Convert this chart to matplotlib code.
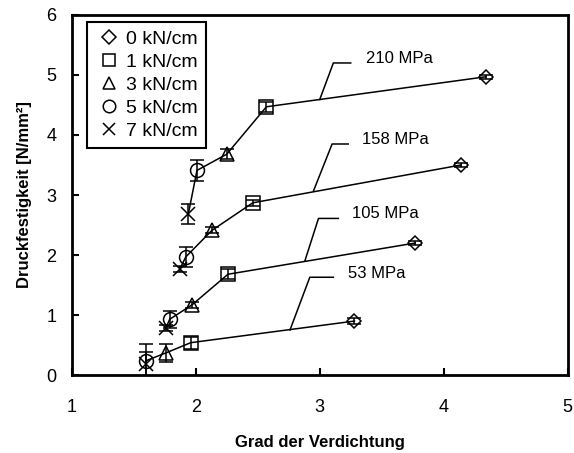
import matplotlib.pyplot as plt

plt.rcParams['font.family'] = ['Liberation Sans', 'DejaVu Sans']

# Gruppen (Spannung) und Anpressdruck
gruppen = ['53 MPa', '105 MPa', '158 MPa', '210 MPa']
druck = ['0 kN/cm', '1 kN/cm', '3 kN/cm', '5 kN/cm', '7 kN/cm']
marker = ['D', 's', '^', 'o', 'x']

# Grad der Verdichtung (x) und Druckfestigkeit (y) je Druck, Reihenfolge wie gruppen
x_0 = [3.28, 3.77, 4.14, 4.34]
y_0 = [0.90, 2.20, 3.50, 4.97]
e_0 = [0.05, 0.03, 0.03, 0.03]

x_1 = [1.96, 2.26, 2.46, 2.57]
y_1 = [0.54, 1.68, 2.87, 4.47]
e_1 = [0.10, 0.08, 0.05, 0.08]

x_3 = [1.76, 1.97, 2.13, 2.25]
y_3 = [0.37, 1.17, 2.41, 3.68]
e_3 = [0.15, 0.05, 0.05, 0.08]

x_5 = [1.60, 1.79, 1.92, 2.01]
y_5 = [0.24, 0.93, 1.97, 3.41]
e_5 = [0.27, 0.14, 0.17, 0.17]

x_7 = [1.60, 1.76, 1.87, 1.94]
y_7 = [0.18, 0.79, 1.76, 2.68]
e_7 = [0.20, 0.05, 0.05, 0.17]

# Beschriftung: Startpunkt auf der Linie, Knick, Ende, Textposition
leit_start = [(2.76, 0.75), (2.88, 1.90), (2.95, 3.07), (3.00, 4.59)]
leit_knick = [(2.92, 1.63), (2.99, 2.61), (3.10, 3.85), (3.11, 5.20)]
leit_ende = [(3.11, 1.63), (3.15, 2.61), (3.23, 3.85), (3.25, 5.20)]
text_pos = [(3.23, 1.69), (3.26, 2.69), (3.34, 3.92), (3.37, 5.28)]

xs = [x_0, x_1, x_3, x_5, x_7]
ys = [y_0, y_1, y_3, y_5, y_7]
es = [e_0, e_1, e_3, e_5, e_7]

fig = plt.figure(figsize=(5.74, 4.53), dpi=100)
ax = fig.add_axes([0.125, 0.172, 0.864, 0.795])

# Verbindungslinien je Gruppe (von 7 kN/cm bis 0 kN/cm)
for g in range(len(gruppen)):
    lx = [xs[k][g] for k in range(4, -1, -1)]
    ly = [ys[k][g] for k in range(4, -1, -1)]
    ax.plot(lx, ly, color='black', linewidth=1.1, zorder=2)

    ax.plot([leit_start[g][0], leit_knick[g][0], leit_ende[g][0]],
            [leit_start[g][1], leit_knick[g][1], leit_ende[g][1]],
            color='black', linewidth=1.1)
    ax.text(text_pos[g][0], text_pos[g][1], gruppen[g], fontsize=12,
            va='center', ha='left')

# Messpunkte mit Fehlerbalken
for k in range(5):
    ms = 7 if marker[k] == 'D' else 10
    ax.errorbar(xs[k], ys[k], yerr=es[k], fmt=marker[k], markersize=ms,
                markerfacecolor='none', markeredgecolor='black',
                markeredgewidth=1.1, ecolor='black', elinewidth=1.1,
                capsize=5, capthick=1.1, label=druck[k], zorder=3)

ax.set_xlim(1, 5)
ax.set_ylim(0, 6)
ax.set_xticks([1, 2, 3, 4, 5])
ax.set_yticks([0, 1, 2, 3, 4, 5, 6])
ax.tick_params(direction='in', length=5, width=1.5, labelsize=13)
ax.tick_params(axis='x', pad=17)
ax.tick_params(axis='y', pad=11)
for s in ax.spines.values():
    s.set_linewidth(2)

ax.set_xlabel('Grad der Verdichtung', fontsize=12, fontweight='bold', labelpad=14)
ax.set_ylabel('Druckfestigkeit [N/mm²]', fontsize=12, fontweight='bold', labelpad=10)

handles, labels = ax.get_legend_handles_labels()
handles = [h[0] for h in handles]
leg = ax.legend(handles, labels, loc='upper left', fontsize=14,
                handlelength=1.45, handletextpad=0.15, labelspacing=0.28,
                borderpad=0.42, borderaxespad=0, fancybox=False,
                edgecolor='black', framealpha=1,
                bbox_to_anchor=(0.03, 0.981))
leg.get_frame().set_linewidth(1.5)
for h in leg.legend_handles:
    h.set_markersize(7 if h.get_marker() == 'D' else 9)

fig.savefig('out.png', dpi=100)
